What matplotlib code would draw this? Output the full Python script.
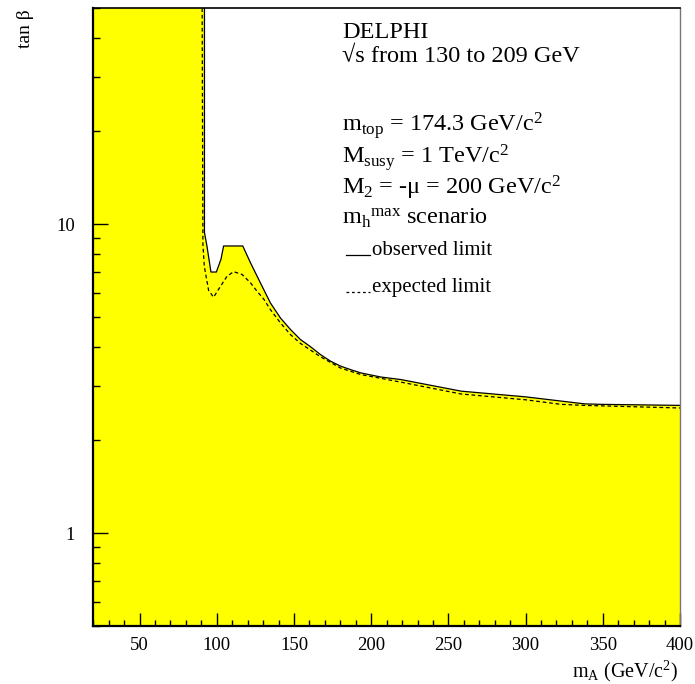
import matplotlib
matplotlib.use("Agg")
import matplotlib.pyplot as plt
from matplotlib.ticker import FixedLocator, NullFormatter, FixedFormatter

plt.rcParams['font.family'] = ['Liberation Serif', 'DejaVu Serif']
plt.rcParams['mathtext.fontset'] = 'custom'
plt.rcParams['mathtext.rm'] = 'Liberation Serif'
plt.rcParams['mathtext.it'] = 'Liberation Serif:italic'
plt.rcParams['mathtext.bf'] = 'Liberation Serif:bold'

# Observed exclusion contour (m_A in GeV/c^2, tan beta)
obs_mA = [92.0, 92.0, 93.6, 96.2, 99.7, 102.7, 104.4, 116.8, 121.8, 128.2,
          134.7, 141.2, 147.7, 154.2, 160.7, 167.2, 173.7, 180.2, 186.7,
          193.2, 206.2, 219.2, 258.2, 300.0, 338.0, 349.0, 400.0]
obs_tanb = [50.0, 9.4, 8.5, 7.0, 7.0, 7.7, 8.5, 8.5, 7.5, 6.46,
            5.56, 4.97, 4.56, 4.23, 4.01, 3.78, 3.60, 3.47, 3.38,
            3.30, 3.20, 3.14, 2.88, 2.76, 2.62, 2.61, 2.59]

# Expected exclusion contour
exp_mA = [90.5, 91.0, 91.9, 94.7, 97.9, 102.0, 106.6, 110.9, 116.4, 121.8,
          126.1, 130.4, 134.7, 141.2, 147.7, 154.2, 167.2, 180.2, 193.2,
          219.2, 258.2, 300.0, 323.0, 338.0, 400.0]
exp_tanb = [50.0, 8.6, 7.3, 6.1, 5.8, 6.25, 6.78, 7.02, 6.87, 6.46,
            6.06, 5.72, 5.29, 4.79, 4.39, 4.11, 3.72, 3.42, 3.26,
            3.08, 2.82, 2.70, 2.61, 2.59, 2.54]

x_range = (20, 400)
y_range = (0.5, 50)
x_major = [50, 100, 150, 200, 250, 300, 350, 400]
x_minor = list(range(20, 401, 10))
y_major = [1, 10]
y_major_labels = ["1", "10"]
y_minor = [0.5, 0.6, 0.7, 0.8, 0.9, 2, 3, 4, 5, 6, 7, 8, 9, 20, 30, 40, 50]

W, H = 695, 684
fig = plt.figure(figsize=(W / 100, H / 100), dpi=100)
ax = fig.add_axes([93.3 / W, (H - 626) / H, (680 - 93.3) / W, (626 - 8.3) / H])

ax.set_xlim(*x_range)
ax.set_ylim(*y_range)
ax.set_yscale('log')

# Excluded region: everything left of and below the observed contour
poly_x = [x_range[0], x_range[0]] + obs_mA + [obs_mA[-1]]
poly_y = [y_range[0], y_range[1]] + obs_tanb + [y_range[0]]
ax.fill(poly_x, poly_y, color='#ffff00', lw=0, zorder=1)

ax.plot(obs_mA, obs_tanb, color='black', lw=0.9, zorder=3)
ax.plot(exp_mA, exp_tanb, color='black', lw=0.9, ls=(0, (3, 2.2)), zorder=3)

# Axes frame
for side in ['left', 'bottom']:
    ax.spines[side].set_linewidth(1.6)
    ax.spines[side].set_color('black')
ax.spines['top'].set_linewidth(1.2)
ax.spines['right'].set_linewidth(1.0)
ax.spines['right'].set_color('#777777')
for s in ax.spines.values():
    s.set_zorder(5)

ax.xaxis.set_major_locator(FixedLocator(x_major))
ax.xaxis.set_minor_locator(FixedLocator(x_minor))
ax.yaxis.set_major_locator(FixedLocator(y_major))
ax.yaxis.set_major_formatter(FixedFormatter(y_major_labels))
ax.yaxis.set_minor_locator(FixedLocator(y_minor))
ax.yaxis.set_minor_formatter(NullFormatter())

ax.tick_params(axis='x', which='major', direction='in', length=9.4, width=1.0,
               labelsize=13.5, pad=8, top=False)
ax.tick_params(axis='x', which='minor', direction='in', length=4.5, width=1.0, top=False)
ax.tick_params(axis='y', which='major', direction='in', length=10.8, width=1.0,
               labelsize=13.5, pad=13, right=False)
ax.tick_params(axis='y', which='minor', direction='in', length=5.0, width=1.0, right=False)

# Axis titles
fig.text(25 / W, 1 - 9 / H, 'tan β', rotation=90, ha='center', va='top', fontsize=14)
fig.text(678 / W, 1 - 677 / H, r'm$_{\rm A}$ (GeV/c$^2$)', ha='right', va='baseline',
         fontsize=14.5)

# Annotation block
def ftext(x, y, s, size=17.5):
    fig.text(x / W, 1 - y / H, s, ha='left', va='baseline', fontsize=size)

ftext(342, 38.5, 'DELPHI')
ftext(342, 61.5, '√s from 130 to 209 GeV')
ftext(342, 131, r'm$_{\rm top}$ = 174.3 GeV/c$^{\rm 2}$')
ftext(342, 163, r'M$_{\rm susy}$ = 1 TeV/c$^{\rm 2}$')
ftext(342, 195, r'M$_{\rm 2}$ = -μ = 200 GeV/c$^{\rm 2}$')
ftext(342, 224, r'm$_{\rm h}$$^{\rm max}$ scenario')

# Line-style key
ftext(372, 255, 'observed limit', size=15)
ftext(372, 292, 'expected limit', size=15)
fig.add_artist(plt.Line2D([346 / W, 370 / W], [1 - 255 / H, 1 - 255 / H],
                          color='black', lw=0.9))
fig.add_artist(plt.Line2D([346 / W, 370 / W], [1 - 292 / H, 1 - 292 / H],
                          color='black', lw=0.9, ls=(0, (2.2, 2.2))))

fig.savefig('out.png', dpi=100)
